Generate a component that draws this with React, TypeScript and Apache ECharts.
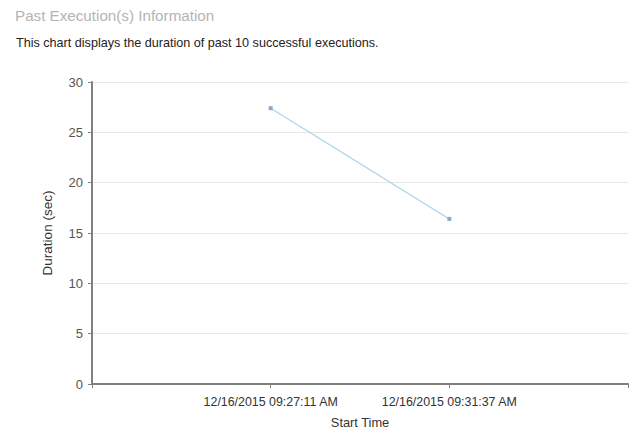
import React, { useEffect, useRef } from "react";
import * as echarts from "echarts";

const categories = ["", "12/16/2015 09:27:11 AM", "12/16/2015 09:31:37 AM", ""];
const durations: (number | null)[] = [null, 27.4, 16.4, null];
const titleText = "Past Execution(s) Information";
const subtitleText = "This chart displays the duration of past 10 successful executions.";

export default function App() {
  const ref = useRef<HTMLDivElement>(null);
  useEffect(() => {
    if (!ref.current) return;
    const chart = echarts.init(ref.current, undefined, { renderer: "svg" });
    const font = "'Liberation Sans', Arial, sans-serif";
    chart.setOption({
      animation: false,
      backgroundColor: "#ffffff",
      title: [
        {
          text: titleText,
          left: 15,
          top: 8,
          padding: 0,
          textStyle: { fontSize: 15.2, fontWeight: "normal", color: "#b4b4b4", fontFamily: font },
        },
        {
          text: subtitleText,
          left: 16,
          top: 36,
          padding: 0,
          textStyle: { fontSize: 12.6, fontWeight: "normal", color: "#222", fontFamily: font },
        },
      ],
      grid: { left: 92, right: 11, top: 82, bottom: 62, containLabel: false },
      xAxis: {
        type: "category",
        data: categories,
        boundaryGap: false,
        name: "Start Time",
        nameLocation: "middle",
        nameGap: 32,
        nameTextStyle: { fontSize: 12.8, color: "#333", fontFamily: font },
        axisLine: { lineStyle: { color: "#808080", width: 2 } },
        axisTick: { show: true, length: 4, alignWithLabel: true, lineStyle: { color: "#808080" } },
        axisLabel: { fontSize: 12.4, color: "#333", fontFamily: font, margin: 12, interval: 0 },
        splitLine: { show: false },
      },
      yAxis: {
        type: "value",
        min: 0,
        max: 30,
        interval: 5,
        name: "Duration (sec)",
        nameLocation: "middle",
        nameGap: 38,
        nameTextStyle: { fontSize: 13.5, color: "#333", fontFamily: font },
        axisLine: { show: true, lineStyle: { color: "#808080", width: 2 } },
        axisTick: { show: true, length: 4, lineStyle: { color: "#808080" } },
        axisLabel: { fontSize: 13, color: "#555", fontFamily: font, margin: 9 },
        splitLine: { show: true, lineStyle: { color: "#e8e8e8", width: 1 } },
      },
      series: [
        {
          type: "line",
          data: durations,
          connectNulls: false,
          symbol: "rect",
          symbolSize: 4,
          itemStyle: { color: "#8fa8c0" },
          lineStyle: { color: "#a8d4ea", width: 1.2 },
        },
      ],
    });
    return () => chart.dispose();
  }, []);
  return (
    <div
      ref={ref}
      style={{ position: "fixed", left: 0, top: 0, width: 639, height: 446, background: "#fff" }}
    />
  );
}
